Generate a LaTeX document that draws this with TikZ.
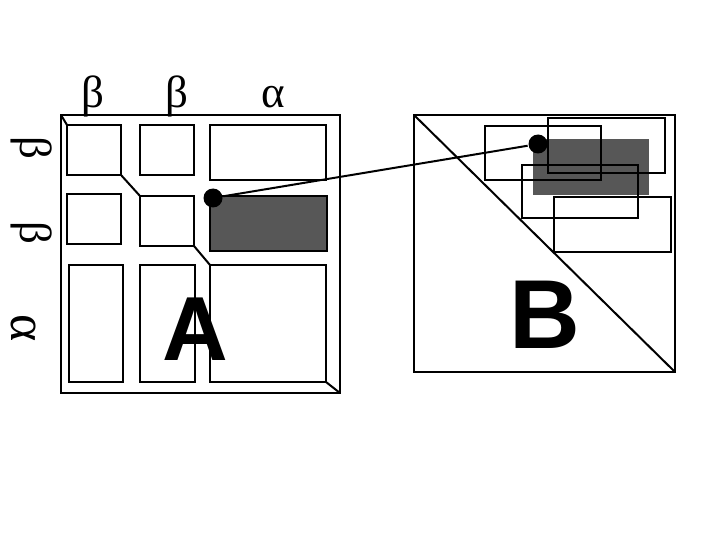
\documentclass[tikz,border=0pt]{standalone}
\usepackage{fontspec}
\setmainfont{Liberation Serif}
\newfontfamily\lettersf{Liberation Sans}
\usetikzlibrary{positioning}

\begin{document}
\begin{tikzpicture}[x=1pt, y=-1pt, line width=2pt,
  frm/.style={draw, inner sep=0pt, outer sep=0pt, anchor=north west},
  blk/.style={frm, line width=2pt},
  shd/.style={frm, draw=none, fill=black!66},
  lbl/.style={font=\fontsize{45}{45}\selectfont, anchor=base, inner sep=0pt},
  big/.style={anchor=base, inner sep=0pt},
  dot/.style={circle, fill=black, inner sep=0pt, minimum size=19pt}]
  \useasboundingbox (0,0) rectangle (720,540);
  % big letters first, block edges go over them
  \node[big, font=\lettersf\bfseries\fontsize{91}{91}\selectfont] (nameA) at (195,360) {A};
  \node[big, font=\lettersf\bfseries\fontsize{98}{98}\selectfont] (nameB) at (545,348) {B};
  % matrix A
  \node[frm, minimum width=279, minimum height=278] (matA) at (61,115) {};
  \node[blk, minimum width=54, minimum height=50] (a11) at (67,125) {};
  \node[blk, minimum width=54, minimum height=50] (a12) at (140,125) {};
  \node[blk, minimum width=116, minimum height=55] (a13) at (210,125) {};
  \node[blk, minimum width=54, minimum height=50] (a21) at (67,194) {};
  \node[blk, minimum width=54, minimum height=50] (a22) at (140,196) {};
  \node[blk, fill=black!66, minimum width=117, minimum height=55] (a23) at (210,196) {};
  \node[blk, minimum width=54, minimum height=117] (a31) at (69,265) {};
  \node[blk, minimum width=55, minimum height=117] (a32) at (140,265) {};
  \node[blk, minimum width=116, minimum height=117] (a33) at (210,265) {};
  \draw (matA.north west) -- (a11.north west);
  \draw (a11.south east) -- (a22.north west);
  \draw (a22.south east) -- (a33.north west);
  \draw (a33.south east) -- (matA.south east);
  % labels of A
  \node[lbl] (tb1) at (93,108) {β};
  \node[lbl] (tb2) at (177,108) {β};
  \node[lbl] (ta3) at (273,108) {α};
  \node[lbl, rotate=-90] (lb1) at (20,148) {β};
  \node[lbl, rotate=-90] (lb2) at (20,233) {β};
  \node[lbl, rotate=-90, font=\fontsize{52}{52}\selectfont] (la3) at (11,328) {α};
  % matrix B
  \node[frm, minimum width=261, minimum height=257] (matB) at (414,115) {};
  \draw (matB.north west) -- (matB.south east);
  \node[shd, minimum width=116, minimum height=56] (bsh) at (533,139) {};
  \node[blk, minimum width=116, minimum height=54] (b1) at (485,126) {};
  \node[blk, minimum width=117, minimum height=55] (b2) at (548,118) {};
  \node[blk, minimum width=116, minimum height=53] (b3) at (522,165) {};
  \node[blk, minimum width=117, minimum height=55] (b4) at (554,197) {};
  % link between the two blocks
  \node[dot] (pa) at (213,198) {};
  \node[dot] (pb) at (538,144) {};
  \draw (pa) -- (pb);
\end{tikzpicture}
\end{document}
